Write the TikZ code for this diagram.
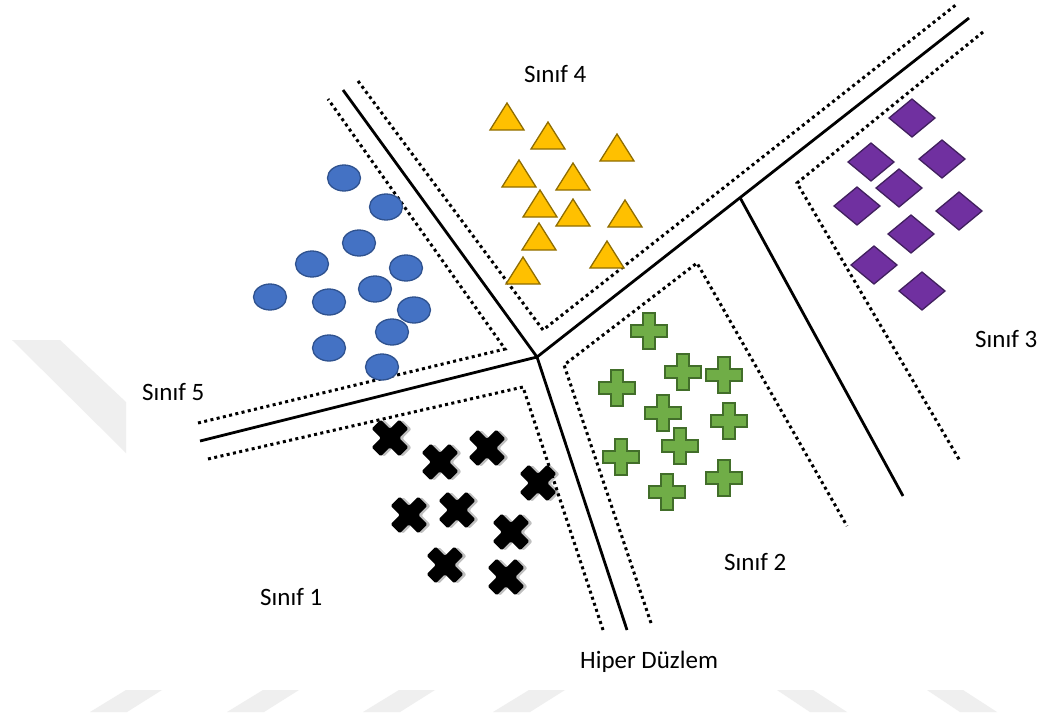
\documentclass[tikz,border=0pt]{standalone}
\usepackage{fontspec}
\setmainfont{Carlito}
\usetikzlibrary{calc}
\definecolor{blobfill}{HTML}{4472C4}
\definecolor{blobline}{HTML}{2F528F}
\definecolor{trifill}{HTML}{FFC000}
\definecolor{triline}{HTML}{8F6D00}
\definecolor{gemfill}{HTML}{7030A0}
\definecolor{gemline}{HTML}{41205E}
\definecolor{crossfill}{HTML}{70AD47}
\definecolor{crossline}{HTML}{426E2A}
\definecolor{wmark}{HTML}{EFEFEF}
\tikzset{
  separator/.style={line width=2.8pt, black},
  marginline/.style={line width=3pt, black, dash pattern=on 3pt off 3.4pt},
  label/.style={font=\fontsize{25}{30}\selectfont, inner sep=0pt, anchor=base west},
  blob/.pic={\draw[fill=blobfill, draw=blobline, line width=1.3pt]
      (0,0) ellipse [x radius=16.5pt, y radius=13pt];},
  tri/.pic={\draw[fill=trifill, draw=triline, line width=1.3pt, line join=miter]
      (0,-14) -- (17,13) -- (-17,13) -- cycle;},
  gem/.pic={\draw[fill=gemfill, draw=gemline, line width=1.3pt]
      (0,-19) -- (23,0) -- (0,19) -- (-23,0) -- cycle;},
  plusmark/.pic={\draw[fill=crossfill, draw=crossline, line width=1.3pt]
      (-6,-18) -- (6,-18) -- (6,-6) -- (18,-6) -- (18,6) -- (6,6) -- (6,18)
      -- (-6,18) -- (-6,6) -- (-18,6) -- (-18,-6) -- (-6,-6) -- cycle;},
  xmark/.pic={
    \fill[black, opacity=0.25, rotate=45, rounded corners=2pt, shift={(2,2.5)}]
      (-6.5,-19.5) -- (6.5,-19.5) -- (6.5,-6.5) -- (19.5,-6.5) -- (19.5,6.5) -- (6.5,6.5)
      -- (6.5,19.5) -- (-6.5,19.5) -- (-6.5,6.5) -- (-19.5,6.5) -- (-19.5,-6.5) -- (-6.5,-6.5) -- cycle;
    \fill[black, rotate=45, rounded corners=1.5pt]
      (-6.5,-19.5) -- (6.5,-19.5) -- (6.5,-6.5) -- (19.5,-6.5) -- (19.5,6.5) -- (6.5,6.5)
      -- (6.5,19.5) -- (-6.5,19.5) -- (-6.5,6.5) -- (-19.5,6.5) -- (-19.5,-6.5) -- (-6.5,-6.5) -- cycle;}
}
\begin{document}
\begin{tikzpicture}[x=1pt, y=-1pt]
\useasboundingbox (0,0) rectangle (1040,715);
\fill[white] (0,0) rectangle (1040,715);

% faint background emblem
\fill[wmark] (12,340) -- (60,340) -- (126,402) -- (126,453) -- cycle;
\foreach \a in {90,227,363,493}
  \fill[wmark] (\a,712) -- (\a+37,712) -- (\a+72,690) -- (\a+36,690) -- cycle;
\foreach \a in {777,927}
  \fill[wmark] (\a,690) -- (\a+36,690) -- (\a+70,712) -- (\a+33,712) -- cycle;

% separating hyperplanes
\coordinate (J) at (537,357);
\coordinate (UL) at (343,90);
\coordinate (L) at (200,441);
\coordinate (B) at (627,630);
\coordinate (UR) at (969,18);
\coordinate (K) at ($(J)!0.47!(UR)$);
\coordinate (KB) at (903,496);
\draw[separator] (UL) -- (J) -- (B);
\draw[separator] (L) -- (J) -- (UR);
\draw[separator] (K) -- (KB);

% margins
\draw[marginline] (198,423) -- (505,349) -- (328,99);
\draw[marginline] (208,459) -- (523,387) -- (603,630);
\draw[marginline] (358,81) -- (543,330) -- (957,4);
\draw[marginline] (651,623) -- (564,365) -- (697,263) -- (847,526);
\draw[marginline] (983,32) -- (797,183) -- (960,461);

% class 5
\foreach \x/\y in {344/178,386/207,359/243,312/264,406/268,270/297,329/302,375/289,414/310,392/332,329/348,382/367}
  \pic at (\x,\y) {blob};
% class 4
\foreach \x/\y in {507/117,548/136,617/148,519/174,573/177,540/204,573/213,625/214,539/237,523/271,607/255}
  \pic at (\x,\y) {tri};
% class 3
\foreach \x/\y in {912/118,871/162,942/159,899/188,857/206,959/211,911/234,874/265,922/291}
  \pic at (\x,\y) {gem};
% class 2
\foreach \x/\y in {649/331,683/372,724/375,617/388,663/413,729/421,680/446,621/457,724/478,667/492}
  \pic at (\x,\y) {plusmark};
% class 1
\foreach \x/\y in {390/438,440/462,487/448,538/483,409/515,457/510,511/532,445/565,506/577}
  \pic at (\x,\y) {xmark};

% labels
\node[label] (s4) at (524,82) {Sınıf 4};
\node[label] (s5) at (142,400) {Sınıf 5};
\node[label] (s1) at (260,605) {Sınıf 1};
\node[label] (s3) at (975,347) {Sınıf 3};
\node[label] (s2) at (724,570) {Sınıf 2};
\node[label] (hp) at (580,668) {Hiper Düzlem};
\end{tikzpicture}
\end{document}
